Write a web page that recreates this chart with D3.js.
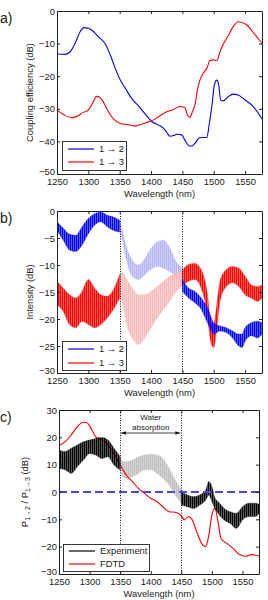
<!DOCTYPE html>
<html><head><meta charset="utf-8">
<script src="https://cdn.jsdelivr.net/npm/d3@7"></script>
<style>body{margin:0;background:#fff}text{font-family:Arial,"Liberation Sans",sans-serif;fill:#222}</style>
</head><body><svg id="c" width="268" height="600"></svg>
<script>
// ---------- data ----------
const wavelengthTicks = [1250,1300,1350,1400,1450,1500,1550];
const ticksA = [0,-10,-20,-30,-40,-50];
const ticksB = [0,-5,-10,-15,-20,-25,-30];
const ticksC = [30,20,10,0,-10,-20,-30];
const legendA = ["1 \u2192 2","1 \u2192 3"];
const legendC = ["Experiment","FDTD"];

// (a) simulated coupling efficiency [wavelength, dB]
const coupling12 = [[1250,-13.2],[1263,-13.3],[1271,-12.5],[1279,-9.9],[1287,-6.3],[1293,-5.1],[1300,-5.3],[1308,-6.3],[1316,-7.9],[1328,-10.4],[1335,-13.5],[1343,-17.6],[1351,-21.2],[1359,-23.7],[1369,-26.8],[1380,-29.1],[1390,-31.4],[1401,-33.9],[1412,-35],[1420,-36],[1425,-37.2],[1430,-38.4],[1436,-38.2],[1441,-37.8],[1449,-38],[1454,-39.6],[1461,-41.4],[1465,-41.4],[1470,-40.6],[1477,-38.9],[1484,-38.8],[1489,-38.8],[1493,-34.5],[1497,-29.3],[1501,-22.7],[1505,-21.2],[1508,-22.7],[1511,-27.3],[1515,-27.6],[1523,-26.3],[1531,-25.5],[1539,-25.8],[1550,-27.3],[1563,-29.3],[1577,-33.1]];
const coupling13 = [[1250,-30.4],[1260,-31.7],[1273,-32.7],[1281,-32.4],[1292,-31.1],[1300,-30.4],[1308,-27.8],[1313,-26.2],[1319,-26.6],[1325,-28.3],[1332,-30.9],[1340,-33.1],[1351,-34.5],[1364,-34.9],[1375,-35.3],[1382,-34.9],[1393,-34.2],[1404,-33.4],[1414,-32.2],[1425,-30.9],[1436,-30.2],[1446,-29.3],[1454,-29.6],[1458,-31.9],[1462,-32.6],[1466,-30.9],[1470,-28.8],[1474,-24.2],[1478,-21.2],[1484,-18.9],[1489,-17.6],[1494,-15.2],[1499,-15],[1505,-15.2],[1510,-12.5],[1516,-9.9],[1523,-7.7],[1531,-4.8],[1539,-3.3],[1545,-3.5],[1553,-4.3],[1563,-6.6],[1577,-9.9]];

// (b) measured intensity envelopes [wavelength, upper dB, lower dB]
const int12Low = [[1250,-2.0,-3.6],[1260,-3.2,-5.4],[1270,-4.3,-7.2],[1280,-4.5,-7.5],[1290,-2.9,-6.3],[1300,-1.4,-4.2],[1310,-0.5,-2.6],[1320,-0.2,-2.0],[1330,-0.8,-2.9],[1340,-1.1,-3.6],[1350,-1.7,-3.9]];
const int12Water = [[1350,-1.7,-3.9],[1355,-3.9,-5.7],[1360,-6.3,-8.8],[1370,-9.1,-12.1],[1380,-10,-12.7],[1390,-8.8,-11.8],[1400,-6.9,-10.8],[1410,-5.7,-10.3],[1420,-5.4,-10.6],[1430,-6.9,-11.2],[1440,-9.4,-12.1],[1450,-10.6,-13.7]];
const int12High = [[1450,-12.7,-14.9],[1460,-14.3,-16.1],[1470,-14.9,-17.0],[1480,-16.1,-18.2],[1490,-17.9,-20.7],[1500,-20.7,-22.8],[1510,-21.3,-22.2],[1520,-21.6,-22.5],[1530,-22.2,-23.5],[1540,-22.8,-25],[1545,-22.8,-25.3],[1550,-21.6,-24.1],[1560,-20.7,-23.1],[1570,-20.4,-23.5],[1577,-20.7,-22.8]];
const int13Low = [[1250,-13.0,-17.3],[1260,-14.3,-18.6],[1270,-15.5,-21],[1280,-16.1,-21.6],[1290,-14.9,-20.4],[1300,-12.7,-21],[1310,-14.3,-21.6],[1320,-15.5,-21],[1330,-15.8,-19.8],[1340,-14.6,-18.2],[1350,-11.8,-16.1]];
const int13Water = [[1350,-11.8,-16.1],[1355,-11.5,-17.3],[1360,-12.4,-20.4],[1370,-14.3,-23.5],[1380,-15.5,-24.7],[1390,-15.5,-23.5],[1400,-14.9,-21.6],[1410,-14,-19.8],[1420,-13.0,-18.2],[1430,-12.1,-16.7],[1440,-11.5,-14.9],[1450,-11.2,-13.9]];
const int13High = [[1450,-10.9,-13.7],[1460,-9.9,-13.0],[1470,-9.7,-12.7],[1480,-10.9,-14.3],[1490,-15.5,-19.2],[1495,-20.4,-24.1],[1500,-21,-25.3],[1505,-17.3,-21.6],[1510,-13,-16.7],[1520,-10.9,-14],[1530,-10.3,-13.3],[1540,-10.6,-14],[1550,-12.1,-15.5],[1560,-13.7,-16.1],[1570,-14,-16.7],[1577,-13.7,-16.1]];

// (c) ratio P1->2 / P1->3
const ratioFdtd = [[1250,17],[1260,18.4],[1270,20.9],[1280,23.9],[1290,25.5],[1295,25.4],[1300,24.3],[1305,22.1],[1310,20.2],[1315,19.6],[1320,19],[1325,18.4],[1330,17.2],[1340,14.1],[1350,9.9],[1360,6.2],[1370,3.8],[1380,1.3],[1390,-0.5],[1400,-2.3],[1410,-3.5],[1420,-5.4],[1430,-7.2],[1440,-7.4],[1450,-8.7],[1455,-10.2],[1462,-9],[1468,-10.2],[1475,-14.5],[1485,-19.4],[1490,-20],[1495,-15.7],[1500,-8.4],[1505,-6],[1510,-10.9],[1515,-17],[1525,-18.9],[1535,-20.7],[1545,-22.9],[1555,-23.5],[1565,-22.9],[1577,-23.4]];
const ratioExpLow = [[1250,15.4,8.7],[1260,14.8,8.1],[1270,16,6.8],[1280,17.2,9.3],[1290,18.4,11.7],[1300,19,14.1],[1310,19.6,13.5],[1320,19.9,12.3],[1330,19,12.9],[1340,16,9.9],[1350,12.9,8.1]];
const ratioExpWater = [[1350,12.9,8.1],[1355,11.1,5.6],[1360,11.1,5],[1370,11.7,5.6],[1380,12.9,6.8],[1390,13.5,8.1],[1400,13.8,8.1],[1410,13.5,6.8],[1420,12.3,5],[1430,8.7,2.6],[1440,4.4,-1.1],[1450,0.7,-4.1]];
const ratioExpHigh = [[1450,0.1,-4.8],[1460,-1.1,-5.4],[1470,-1.7,-6],[1480,-1.1,-4.8],[1490,0.7,-2.9],[1495,3.8,-1.1],[1500,2,-3.5],[1505,-2.3,-6],[1510,-3.5,-7.8],[1520,-6,-10.2],[1530,-7.2,-11.5],[1540,-7.8,-13.3],[1550,-5.4,-10.2],[1560,-4.1,-9],[1570,-4.1,-9],[1577,-4.5,-8]];
const waterBand = [1350,1450];

// ---------- drawing ----------
const svg = d3.select("#c");
const FS = 9.4;
const panels = [
  {id:"a", l:57, r:262, t:11, b:174, yd:[-50,0], yt:ticksA, ylab:"Coupling efficiency (dB)", ylx:33},
  {id:"b", l:57, r:262, t:211, b:373, yd:[-30,0], yt:ticksB, ylab:"Intensity (dB)", ylx:33},
  {id:"c", l:59, r:259, t:410, b:574, yd:[-30,30], yt:ticksC, ylab:null, ylx:28}
];
const defs = svg.append("defs");
defs.append("marker").attr("id","arr").attr("viewBox","0 0 10 10").attr("refX",10).attr("refY",5)
  .attr("markerWidth",5).attr("markerHeight",5).attr("orient","auto-start-reverse").attr("markerUnits","userSpaceOnUse")
  .append("path").attr("d","M0,1.5L10,5L0,8.5Z").attr("fill","#111");

// fringe texture (styling only): thin vertical stripes
let patN = 0;
function stripe(color){
  const id = "pat"+(patN++);
  const pt = defs.append("pattern").attr("id",id).attr("patternUnits","userSpaceOnUse")
    .attr("width",2).attr("height",4);
  pt.append("rect").attr("width",2).attr("height",4).attr("fill",color).attr("opacity",0.55);
  pt.append("rect").attr("width",1.2).attr("height",4).attr("fill",color);
  return "url(#"+id+")";
}

panels.forEach(p=>{
  p.x = d3.scaleLinear().domain([1250,1577]).range([p.l,p.r]);
  p.y = d3.scaleLinear().domain(p.yd).range([p.b,p.t]);
  defs.append("clipPath").attr("id","clip"+p.id).append("rect")
    .attr("x",p.l).attr("y",p.t).attr("width",p.r-p.l).attr("height",p.b-p.t);
  p.g = svg.append("g").attr("clip-path","url(#clip"+p.id+")");
});

function drawLine(p, data, color, w){
  p.g.append("path").datum(data).attr("fill","none").attr("stroke",color).attr("stroke-width",w||1.1)
    .attr("stroke-linejoin","round")
    .attr("d", d3.line().x(d=>p.x(d[0])).y(d=>p.y(d[1])).curve(d3.curveMonotoneX));
}
function drawBand(p, data, color){
  p.g.append("path").datum(data).attr("fill",stripe(color)).attr("stroke",color).attr("stroke-width",0.5)
    .attr("stroke-opacity",0.7)
    .attr("d", d3.area().x(d=>p.x(d[0])).y0(d=>p.y(d[2])).y1(d=>p.y(d[1])).curve(d3.curveMonotoneX));
}

const [A,B,C] = panels;
const BLUE="#0000ff", RED="#ff0000";

// panel a
drawLine(A, coupling12, BLUE);
drawLine(A, coupling13, RED);

// panel b
drawBand(B, int12Water, "#b4b4f4");
drawBand(B, int13Water, "#f7b8b8");
drawBand(B, int12Low, BLUE);
drawBand(B, int13Low, RED);
drawBand(B, int13High, RED);
drawBand(B, int12High, BLUE);

// panel c
drawBand(C, ratioExpWater, "#bdbdbd");
drawLine(C, ratioFdtd, RED);
drawBand(C, ratioExpLow, "#000");
drawBand(C, ratioExpHigh, "#000");
C.g.append("line").attr("x1",C.l).attr("x2",C.r).attr("y1",C.y(0)).attr("y2",C.y(0))
  .attr("stroke","#4646ff").attr("stroke-width",1.8).attr("stroke-dasharray","8,4");

// dotted water-band markers
[B,C].forEach(p=>{
  waterBand.forEach(w=>{
    svg.append("line").attr("x1",Math.round(p.x(w))+0.5).attr("x2",Math.round(p.x(w))+0.5)
      .attr("y1",p.t).attr("y2",p.b).attr("stroke","#111").attr("stroke-width",1).attr("stroke-dasharray","1,1.5");
  });
});
svg.append("line").attr("x1",C.x(waterBand[0])+1).attr("x2",C.x(waterBand[1])-1)
  .attr("y1",433).attr("y2",433).attr("stroke","#111").attr("stroke-width",0.8)
  .attr("marker-start","url(#arr)").attr("marker-end","url(#arr)");
svg.append("text").attr("x",C.x(1400)).attr("y",420).attr("text-anchor","middle").attr("font-size",8).text("Water");
svg.append("text").attr("x",C.x(1400)).attr("y",430).attr("text-anchor","middle").attr("font-size",8).text("absorption");

// axes
panels.forEach(p=>{
  const ax = svg.append("g");
  ax.append("g").attr("transform",`translate(0,${p.b})`)
    .call(d3.axisBottom(p.x).tickValues(wavelengthTicks).tickSizeInner(-3).tickSizeOuter(0).tickPadding(4.2).tickFormat(d3.format("d")));
  ax.append("g").attr("transform",`translate(0,${p.t})`)
    .call(d3.axisTop(p.x).tickValues(wavelengthTicks).tickSizeInner(-3).tickSizeOuter(0).tickFormat(""));
  const yax = ax.append("g").attr("transform",`translate(${p.l},0)`)
    .call(d3.axisLeft(p.y).tickValues(p.yt).tickSizeInner(-3).tickSizeOuter(0).tickPadding(2).tickFormat(d3.format("d")));
  // bottom-most y label nudged up slightly, as in the reference
  yax.selectAll(".tick").filter(d=>d===p.yd[0]).select("text").attr("dy","0.1em");
  ax.append("g").attr("transform",`translate(${p.r},0)`)
    .call(d3.axisRight(p.y).tickValues(p.yt).tickSizeInner(-3).tickSizeOuter(0).tickFormat(""));
  ax.selectAll("g").attr("font-family",null).attr("font-size",FS);
  ax.selectAll("path,line").attr("stroke","#222");
  ax.selectAll("text").attr("fill","#222");
  svg.append("text").attr("x",(p.l+p.r)/2).attr("y",p.b+22.8).attr("text-anchor","middle").attr("font-size",FS).text("Wavelength (nm)");
  if(p.ylab){
    svg.append("text").attr("transform",`translate(${p.ylx},${(p.t+p.b)/2}) rotate(-90)`)
      .attr("text-anchor","middle").attr("font-size",FS).text(p.ylab);
  }
  svg.append("text").attr("x",0).attr("y",p.t+12).attr("font-size",14).text(p.id+")");
});
// panel c y label with subscripts
const yl = svg.append("text").attr("transform",`translate(${C.ylx},${(C.t+C.b)/2}) rotate(-90)`)
  .attr("text-anchor","middle").attr("font-size",FS);
yl.append("tspan").text("P");
yl.append("tspan").attr("font-size",7).attr("dy",2).text("1\u21922");
yl.append("tspan").attr("dy",-2).text(" / P");
yl.append("tspan").attr("font-size",7).attr("dy",2).text("1\u21923");
yl.append("tspan").attr("dy",-2).text(" (dB)");

// legends
function legend(x0,y0,x1,y1, items, colors, ys){
  svg.append("rect").attr("x",x0+0.5).attr("y",y0+0.5).attr("width",x1-x0).attr("height",y1-y0)
    .attr("fill","#fff").attr("stroke","#222").attr("stroke-width",0.9);
  items.forEach((t,i)=>{
    svg.append("line").attr("x1",x0+6).attr("x2",x0+32).attr("y1",ys[i]).attr("y2",ys[i])
      .attr("stroke",colors[i]).attr("stroke-width",1.2);
    svg.append("text").attr("x",x0+37).attr("y",ys[i]+3.4).attr("font-size",FS).text(t);
  });
}
legend(62,141,126,170, legendA, [BLUE,RED], [149,162]);
legend(62,341,126,370, legendA, [BLUE,RED], [349,363]);
legend(63,544,149,571, legendC, ["#000",RED], [551,564]);
</script></body></html>
